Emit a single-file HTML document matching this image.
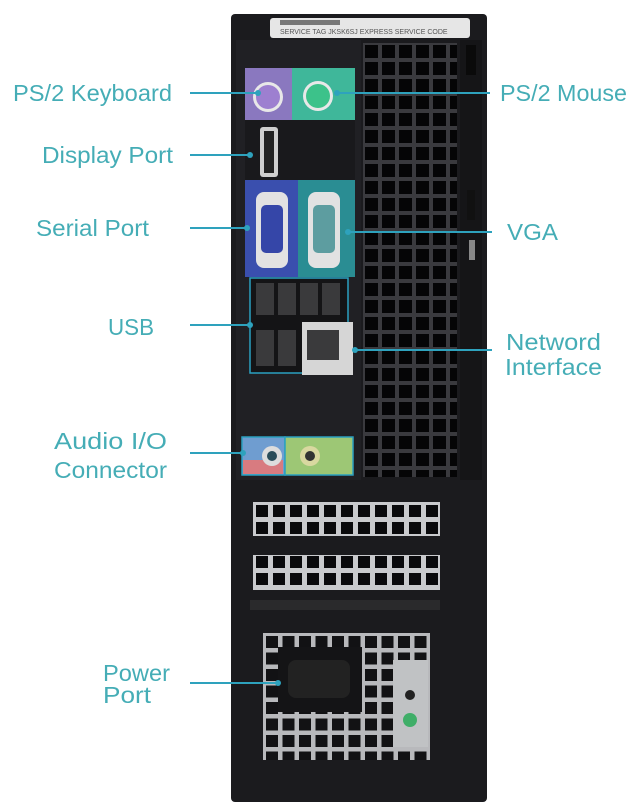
<!DOCTYPE html>
<html><head><meta charset="utf-8"><style>
html,body{margin:0;padding:0;background:#fff;}
svg{display:block;}
text{font-family:"Liberation Sans",sans-serif;fill:#45adb6;font-size:23px;}
</style></head><body>
<svg width="640" height="811" viewBox="0 0 640 811" xmlns="http://www.w3.org/2000/svg">
<defs>
<pattern id="grille" x="363" y="43" width="17" height="17" patternUnits="userSpaceOnUse">
<rect width="17" height="17" fill="#3a3a3e"/>
<rect x="2" y="2" width="13" height="13" fill="#050506"/>
</pattern>
<pattern id="slot" x="253" y="502" width="17" height="17" patternUnits="userSpaceOnUse">
<rect width="17" height="17" fill="#c9cacd"/>
<rect x="3" y="3" width="12" height="12" fill="#0a0a0c"/>
</pattern>
<pattern id="psu" x="263" y="633" width="16.5" height="16.5" patternUnits="userSpaceOnUse">
<rect width="17" height="17" fill="#b8b9bc"/>
<rect x="3" y="3" width="12" height="12" fill="#121214"/>
</pattern>
</defs>
<rect width="640" height="811" fill="#fff"/>
<rect x="231" y="14" width="256" height="788" rx="4" fill="#1b1b1e"/>
<rect x="236" y="40" width="125" height="440" fill="#202024"/>
<rect x="270" y="18" width="200" height="20" rx="3" fill="#e6e6e6"/>
<text x="280" y="34" style="font-size:7px;fill:#555">SERVICE TAG  JKSK6SJ   EXPRESS SERVICE CODE</text>
<rect x="280" y="20" width="60" height="5" fill="#777"/>
<rect x="363" y="43" width="94" height="434" fill="url(#grille)"/>
<rect x="460" y="40" width="22" height="440" fill="#151517"/>
<rect x="466" y="45" width="10" height="30" fill="#0a0a0a"/>
<rect x="467" y="190" width="8" height="30" fill="#111"/>
<rect x="469" y="240" width="6" height="20" fill="#888"/>
<rect x="245" y="68" width="47" height="52" fill="#8a78bf"/>
<rect x="292" y="68" width="63" height="52" fill="#3fb79a"/>
<circle cx="268" cy="97" r="15" fill="#e8e8e8"/><circle cx="268" cy="97" r="12" fill="#9d7fd0"/>
<circle cx="318" cy="96" r="15" fill="#e8e8e8"/><circle cx="318" cy="96" r="12" fill="#3cc28a"/>
<rect x="245" y="120" width="110" height="60" fill="#19191c"/>
<rect x="260" y="127" width="18" height="50" rx="3" fill="#cfcfcf"/><rect x="264" y="131" width="10" height="42" fill="#222"/>
<rect x="245" y="180" width="53" height="97" fill="#3a4fae"/>
<rect x="298" y="180" width="57" height="97" fill="#2a8d93"/>
<rect x="256" y="192" width="32" height="76" rx="8" fill="#e2e2e2"/><rect x="261" y="205" width="22" height="48" rx="5" fill="#3546a8"/>
<rect x="308" y="192" width="32" height="76" rx="8" fill="#e2e2e2"/><rect x="313" y="205" width="22" height="48" rx="5" fill="#5d9da0"/>
<rect x="250" y="278" width="98" height="95" fill="#141416" stroke="#2aa0c0" stroke-width="1.5"/>
<rect x="256" y="283" width="18" height="32" fill="#3a3a3c"/><rect x="278" y="283" width="18" height="32" fill="#3a3a3c"/>
<rect x="300" y="283" width="18" height="32" fill="#3a3a3c"/><rect x="322" y="283" width="18" height="32" fill="#3a3a3c"/>
<rect x="256" y="330" width="18" height="36" fill="#3a3a3c"/><rect x="278" y="330" width="18" height="36" fill="#3a3a3c"/>
<rect x="302" y="322" width="51" height="53" fill="#d6d6d6"/>
<rect x="307" y="330" width="32" height="30" fill="#3a3a3c"/>
<rect x="242" y="437" width="43" height="38" fill="#6f9dd0" stroke="#2aa0c0" stroke-width="1.5"/>
<rect x="285" y="437" width="68" height="38" fill="#9dc775" stroke="#2aa0c0" stroke-width="1.5"/>
<rect x="243" y="460" width="40" height="14" fill="#d87b80"/>
<circle cx="272" cy="456" r="10" fill="#ddd"/><circle cx="272" cy="456" r="5" fill="#2a4d5a"/>
<circle cx="310" cy="456" r="10" fill="#d9d8a0"/><circle cx="310" cy="456" r="5" fill="#333"/>
<rect x="253" y="502" width="187" height="34" fill="url(#slot)"/>
<rect x="253" y="555" width="187" height="35" fill="url(#slot)"/>
<rect x="250" y="600" width="190" height="10" fill="#2a2a2c"/>
<rect x="263" y="633" width="167" height="127" fill="url(#psu)"/>
<rect x="278" y="647" width="84" height="65" fill="#141416"/>
<rect x="288" y="660" width="62" height="38" rx="8" fill="#222"/>
<rect x="393" y="660" width="35" height="87" fill="#c0c2c4"/>
<circle cx="410" cy="695" r="5" fill="#222"/>
<circle cx="410" cy="720" r="7" fill="#3fae68"/>
<g stroke="#2ea2bd" stroke-width="2" fill="none">
<line x1="190" y1="93" x2="258" y2="93"/>
<line x1="337" y1="93" x2="490" y2="93"/>
<line x1="190" y1="155" x2="250" y2="155"/>
<line x1="190" y1="228" x2="247" y2="228"/>
<line x1="348" y1="232" x2="492" y2="232"/>
<line x1="190" y1="325" x2="250" y2="325"/>
<line x1="355" y1="350" x2="492" y2="350"/>
<line x1="190" y1="453" x2="243" y2="453"/>
<line x1="190" y1="683" x2="278" y2="683"/>
</g>
<g fill="#2ea2bd">
<circle cx="258" cy="93" r="3"/><circle cx="337" cy="93" r="3"/><circle cx="250" cy="155" r="3"/>
<circle cx="247" cy="228" r="3"/><circle cx="348" cy="232" r="3"/><circle cx="250" cy="325" r="3"/>
<circle cx="355" cy="350" r="3"/><circle cx="243" cy="453" r="3"/><circle cx="278" cy="683" r="3"/>
</g>
<text x="13" y="101" textLength="159" lengthAdjust="spacingAndGlyphs">PS/2 Keyboard</text>
<text x="500" y="101" textLength="127" lengthAdjust="spacingAndGlyphs">PS/2 Mouse</text>
<text x="42" y="163" textLength="131" lengthAdjust="spacingAndGlyphs">Display Port</text>
<text x="36" y="236" textLength="113" lengthAdjust="spacingAndGlyphs">Serial Port</text>
<text x="507" y="240" textLength="51" lengthAdjust="spacingAndGlyphs">VGA</text>
<text x="108" y="335" textLength="46" lengthAdjust="spacingAndGlyphs">USB</text>
<text x="506" y="350" textLength="95" lengthAdjust="spacingAndGlyphs">Netword</text>
<text x="505" y="375" textLength="97" lengthAdjust="spacingAndGlyphs">Interface</text>
<text x="54" y="449" textLength="113" lengthAdjust="spacingAndGlyphs">Audio I/O</text>
<text x="54" y="478" textLength="113" lengthAdjust="spacingAndGlyphs">Connector</text>
<text x="103" y="681" textLength="67" lengthAdjust="spacingAndGlyphs">Power</text>
<text x="103" y="703" textLength="48" lengthAdjust="spacingAndGlyphs">Port</text>
</svg>
</body></html>
